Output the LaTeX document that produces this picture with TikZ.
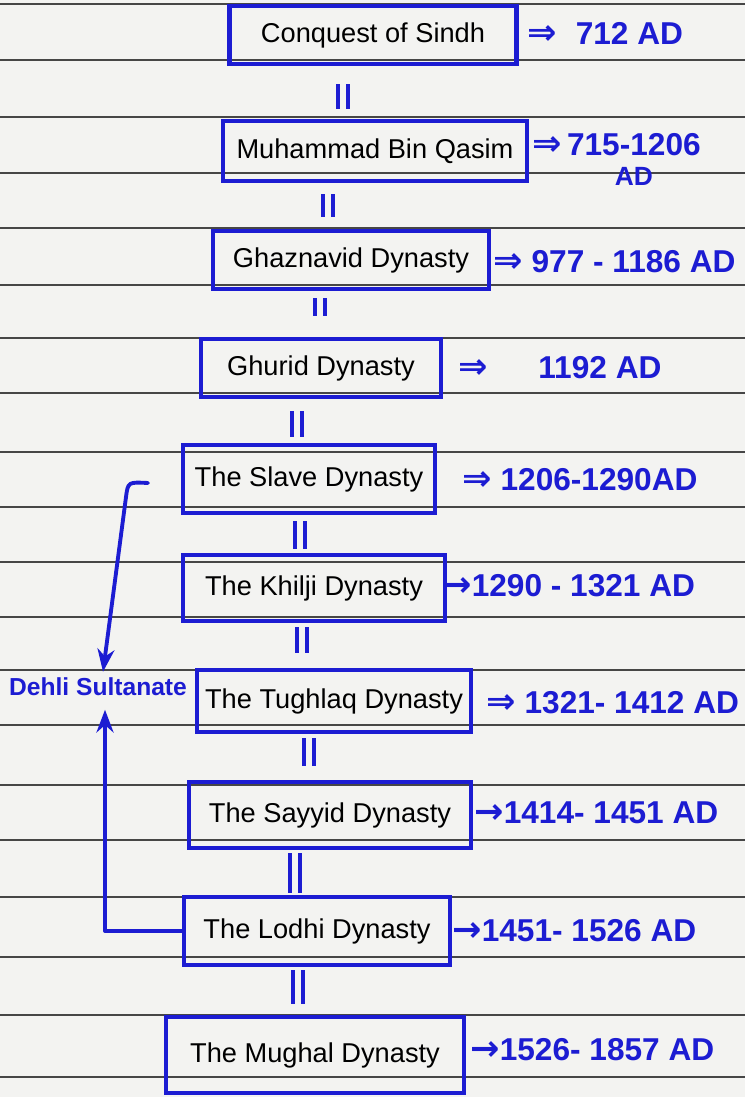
\documentclass[tikz,border=0pt]{standalone}
\usepackage{fontspec}
\setmainfont{Liberation Sans}
\newfontfamily\arrowfont{DejaVu Sans}
\usetikzlibrary{arrows.meta}
\definecolor{ink}{RGB}{28,28,210}
\definecolor{paper}{RGB}{243,243,241}
\definecolor{rule}{RGB}{70,70,70}

\begin{document}
\begin{tikzpicture}[x=0.02cm, y=-0.02cm, >=Stealth,
  box/.style={draw=ink, line width=2.8pt, inner sep=0pt, font=\fontsize{15.5}{18}\selectfont},
  date/.style={anchor=west, text=ink, inner sep=0pt, font=\fontsize{18}{20}\selectfont\bfseries},
  eq/.style={draw=ink, line width=2.2pt, double=paper, double distance=3.2pt},
  link/.style={draw=ink, line width=2.2pt, ->, line cap=round, line join=round}]
\fill[paper] (0,0) rectangle (745,1097);
\useasboundingbox (0,0) rectangle (745,1097);
\foreach \y in {4,60,117,173,228,285,338,393,452,507,562,617,670,725,785,840,897,957,1015,1077}
  \draw[rule, line width=0.6pt] (0,\y) -- (745,\y);

\node[box, minimum width=5.74cm, minimum height=1.16cm] (sindh) at (373,35) {Conquest of Sindh};
\node[box, minimum width=6.08cm, minimum height=1.2cm] (qasim) at (375,151) {Muhammad Bin Qasim};
\node[box, minimum width=5.52cm, minimum height=1.16cm] (ghazna) at (351,260) {Ghaznavid Dynasty};
\node[box, minimum width=4.8cm, minimum height=1.16cm] (ghurid) at (321,368) {Ghurid Dynasty};
\node[box, minimum width=5.04cm, minimum height=1.36cm] (slave) at (309,479) {The Slave Dynasty};
\node[box, minimum width=5.24cm, minimum height=1.32cm] (khilji) at (314,588) {The Khilji Dynasty};
\node[box, minimum width=5.48cm, minimum height=1.24cm] (tughlaq) at (334,701) {The Tughlaq Dynasty};
\node[box, minimum width=5.64cm, minimum height=1.32cm] (sayyid) at (330,815) {The Sayyid Dynasty};
\node[box, minimum width=5.32cm, minimum height=1.36cm] (lodhi) at (317,931) {The Lodhi Dynasty};
\node[box, minimum width=5.96cm, minimum height=1.52cm] (mughal) at (315,1055) {The Mughal Dynasty};

\node[date] (sindhd) at (527,33) {{\arrowfont\fontsize{20}{20}\selectfont ⇒}\hspace{0.6em}712 AD};
\node[date, anchor=base west] (qasimd) at (532,156) {{\arrowfont\fontsize{20}{20}\selectfont ⇒}\,\begin{tabular}[t]{@{}c@{}}715-1206\\[-3pt]\fontsize{15}{17}\selectfont AD\end{tabular}};
\node[date] (ghaznad) at (493,262) {{\arrowfont\fontsize{20}{20}\selectfont ⇒} 977 - 1186 AD};
\node[date] (ghuridd) at (458,368) {{\arrowfont\fontsize{20}{20}\selectfont ⇒}\hspace{1.6em}1192 AD};
\node[date] (slaved) at (462,480) {{\arrowfont\fontsize{20}{20}\selectfont ⇒} 1206-1290AD};
\node[date] (khiljid) at (442,586) {{\arrowfont\fontsize{20}{20}\selectfont →}1290 - 1321 AD};
\node[date] (tughlaqd) at (486,703) {{\arrowfont\fontsize{20}{20}\selectfont ⇒} 1321- 1412 AD};
\node[date] (sayyidd) at (474,813) {{\arrowfont\fontsize{20}{20}\selectfont →}1414- 1451 AD};
\node[date] (lodhid) at (452,931) {{\arrowfont\fontsize{20}{20}\selectfont →}1451- 1526 AD};
\node[date] (mughald) at (470,1050) {{\arrowfont\fontsize{20}{20}\selectfont →}1526- 1857 AD};

\node[text=ink, font=\fontsize{14}{16}\selectfont\bfseries] (delhi) at (98,687) {Dehli Sultanate};

\foreach \a/\b/\x/\p/\q in {sindh/qasim/343/18/10, qasim/ghazna/328/11/12, ghazna/ghurid/320/7/21,
  ghurid/slave/297/12/6, slave/khilji/300/6/4, khilji/tughlaq/302/4/15, tughlaq/sayyid/309/4/14,
  sayyid/lodhi/295/3/2, lodhi/mughal/298/3/11}
  \draw[eq, shorten <=\p*0.02cm, shorten >=\q*0.02cm] (\a.south -| \x,0) -- (\b.north -| \x,0);

\coordinate (slavetail) at (148,483);
\draw[link] (slavetail) .. controls (128,482) .. (126,497) -- ([xshift=0.1cm]delhi.north);
\draw[link, shorten >=0.15cm] (lodhi.west) -| ([xshift=0.14cm]delhi.south);
\end{tikzpicture}
\end{document}
